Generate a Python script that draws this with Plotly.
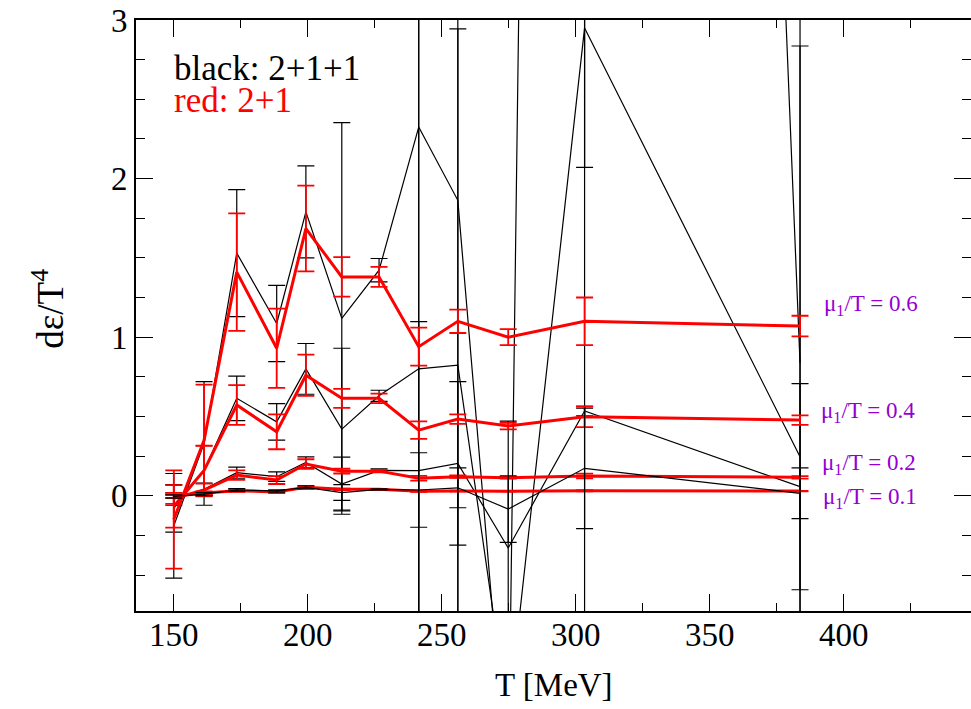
import plotly.graph_objects as go

# temperatures [MeV]
T = [150.0, 161.3, 173.5, 188.4, 199.3, 212.7, 226.6, 241.4, 256.0, 274.8, 303.3, 383.7]

# 2+1 (red)
red_06 = [-0.15, 0.35, 1.41, 0.93, 1.685, 1.38, 1.38, 0.94, 1.10, 1.00, 1.10, 1.07]
red_06_err = [0.31, 0.35, 0.37, 0.25, 0.27, 0.125, 0.063, 0.12, 0.074, 0.05, 0.15, 0.065]
red_04 = [-0.067, 0.16, 0.572, 0.403, 0.76, 0.614, 0.614, 0.414, 0.483, 0.439, 0.498, 0.477]
red_04_err = [0.134, 0.155, 0.125, 0.11, 0.13, 0.06, 0.03, 0.055, 0.03, 0.02, 0.065, 0.03]
red_02 = [-0.017, 0.036, 0.13, 0.099, 0.20, 0.155, 0.155, 0.11, 0.12, 0.113, 0.124, 0.116]
red_02_err = [0.035, 0.04, 0.03, 0.025, 0.03, 0.015, 0.008, 0.015, 0.008, 0.005, 0.015, 0.008]
red_01 = [-0.004, 0.017, 0.032, 0.023, 0.053, 0.04, 0.04, 0.028, 0.03, 0.028, 0.031, 0.029]
red_01_err = [0.01, 0.01, 0.008, 0.006, 0.008, 0.004, 0.002, 0.004, 0.002, 0.001, 0.004, 0.002]

# 2+1+1 (black)
blk_06 = [-0.19, 0.33, 1.53, 1.086, 1.79, 1.118, 1.422, 2.325, 1.863, -1.9, 34.0, 0.835]
blk_06_err = [0.33, 0.39, 0.40, 0.24, 0.29, 1.235, 0.074, 5.0, 5.0, 1.1, 40.0, 5.0]
blk_04 = [-0.08, 0.16, 0.614, 0.466, 0.80, 0.42, 0.63, 0.80, 0.824, -1.4, 2.95, 0.246]
blk_04_err = [0.15, 0.155, 0.14, 0.115, 0.16, 0.51, 0.035, 5.0, 2.12, 0.6, 0.88, 2.59]
blk_02 = [-0.02, 0.04, 0.145, 0.12, 0.21, 0.074, 0.16, 0.158, 0.204, -0.33, 0.534, 0.057]
blk_02_err = [0.04, 0.04, 0.035, 0.03, 0.035, 0.17, 0.01, 0.94, 0.515, 0.8, 0.03, 0.65]
blk_01 = [-0.005, 0.01, 0.036, 0.03, 0.053, 0.02, 0.04, 0.036, 0.05, -0.084, 0.173, 0.015]
blk_01_err = [0.01, 0.01, 0.009, 0.007, 0.01, 0.05, 0.003, 0.235, 0.126, 0.21, 0.38, 0.16]

mu_labels = ["μ<sub>1</sub>/T = 0.6", "μ<sub>1</sub>/T = 0.4", "μ<sub>1</sub>/T = 0.2", "μ<sub>1</sub>/T = 0.1"]
mu_label_y = [1.20, 0.529, 0.20, -0.015]
mu_label_x = [0.8216, 0.818, 0.8193, 0.8205]

FONT = "Liberation Serif"
PURPLE = "#9400D3"

fig = go.Figure()

black_sets = [(blk_06, blk_06_err), (blk_04, blk_04_err), (blk_02, blk_02_err), (blk_01, blk_01_err)]
red_sets = [(red_06, red_06_err), (red_04, red_04_err), (red_02, red_02_err), (red_01, red_01_err)]

for i, (vals, errs) in enumerate(black_sets):
    fig.add_trace(go.Scatter(
        x=T, y=vals, mode="lines",
        line=dict(color="black", width=1.2),
        error_y=dict(type="data", array=errs, visible=True, color="black", thickness=1.2, width=8.5),
        showlegend=False, hoverinfo="skip",
        yaxis="y2" if i == 3 else "y",
    ))

for vals, errs in red_sets:
    fig.add_trace(go.Scatter(
        x=T, y=vals, mode="lines",
        line=dict(color="red", width=3),
        error_y=dict(type="data", array=errs, visible=True, color="red", thickness=1.8, width=8.5),
        showlegend=False, hoverinfo="skip",
    ))

YR = [-0.727, 3.0]
XR = [135.9, 447.5]

fig.update_layout(
    width=971, height=709,
    margin=dict(l=136, r=0, t=20, b=98),
    paper_bgcolor="white", plot_bgcolor="white",
    font=dict(family=FONT, color="black", size=33),
    xaxis=dict(
        range=XR, showgrid=False, zeroline=False,
        showline=True, linecolor="black", linewidth=1.6, mirror="ticks",
        ticks="inside", ticklen=17, tickwidth=1.3, tickcolor="black",
        tick0=150, dtick=50, ticklabelstandoff=-6,
        minor=dict(ticks="inside", ticklen=8, tickwidth=1.3, tickcolor="black", dtick=25, tick0=150, showgrid=False),
        tickfont=dict(family=FONT, size=33),
    ),
    yaxis=dict(
        range=YR, showgrid=False, zeroline=False,
        showline=True, linecolor="black", linewidth=1.6, mirror=False,
        ticks="inside", ticklen=17, tickwidth=1.3, tickcolor="black",
        tick0=0, dtick=1,
        minor=dict(ticks="inside", ticklen=9, tickwidth=1.3, tickcolor="black", dtick=0.25, tick0=0, showgrid=False),
        tickfont=dict(family=FONT, size=33),
    ),
    yaxis2=dict(
        range=YR, overlaying="y", side="right", showgrid=False, zeroline=False,
        showline=False, showticklabels=False,
        ticks="inside", ticklen=17, tickwidth=1.3, tickcolor="black",
        tick0=0, dtick=1,
        minor=dict(ticks="inside", ticklen=9, tickwidth=1.3, tickcolor="black", dtick=0.25, tick0=0, showgrid=False),
    ),
)

annotations = [
    dict(text="dε/T<sup>4</sup>", xref="paper", yref="paper", x=-0.105, y=0.512,
         textangle=-90, showarrow=False, font=dict(family=FONT, size=37, color="black"),
         xanchor="center", yanchor="middle"),
    dict(text="T [MeV]", xref="paper", yref="paper", x=0.5, y=-0.125,
         showarrow=False, font=dict(family=FONT, size=33, color="black"),
         xanchor="center", yanchor="middle"),
    dict(text="black: 2+1+1", xref="paper", yref="paper", x=(172 - 136) / 835, y=(611 - 68) / 591,
         showarrow=False, font=dict(family=FONT, size=35, color="black"),
         xanchor="left", yanchor="middle"),
    dict(text="red: 2+1", xref="paper", yref="paper", x=(172 - 136) / 835, y=(611 - 101) / 591,
         showarrow=False, font=dict(family=FONT, size=35, color="red"),
         xanchor="left", yanchor="middle"),
]
for txt, yy, xx in zip(mu_labels, mu_label_y, mu_label_x):
    annotations.append(dict(text=txt, xref="paper", yref="y", x=xx, y=yy, showarrow=False,
                            font=dict(family=FONT, size=23, color=PURPLE),
                            xanchor="left", yanchor="middle"))
fig.update_layout(annotations=annotations)

fig.write_html("out.html", config={"displayModeBar": False},
               post_script="document.body.style.margin='0';document.body.style.padding='0';")
